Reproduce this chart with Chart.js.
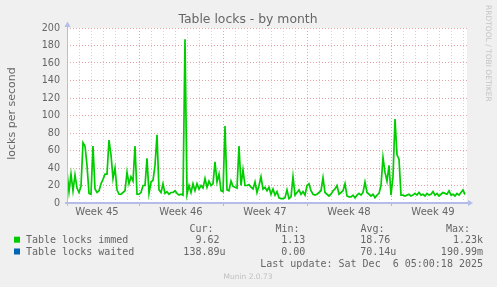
<!DOCTYPE html>
<html><head><meta charset="utf-8">
<script src="https://cdn.jsdelivr.net/npm/chart.js@4.4.1/dist/chart.umd.min.js"></script>
<style>html,body{margin:0;padding:0;background:#f0f0f0;overflow:hidden}</style>
</head><body><canvas id="c" width="497" height="287"></canvas>
<script>
const chartTitle = 'Table locks - by month';
const yTitle = 'locks per second';
const watermark = 'RRDTOOL / TOBI OETIKER';
const footer = 'Munin 2.0.73';
const weekLabels = ['Week 45', 'Week 46', 'Week 47', 'Week 48', 'Week 49'];
const weekCenters = [2.5, 9.5, 16.5, 23.5, 30.5];   // days from graph start
const weekStarts = [6, 13, 20, 27];                 // Monday 00:00, days from graph start
const spanDays = 33.3333;                           // time range shown
const sampleStep = 1 / 6;                           // days between samples (4 h)
const yTicks = [0, 20, 40, 60, 80, 100, 120, 140, 160, 180, 200];

const immed = [
  36,13,33,14,32,17,12,19,69,65,
  43,11,10,65,16,12,14,22,27,33,
  33,72,55,28,40,15,10,10,12,14,
  35,22,30,25,65,10,10,12,20,20,
  51,11,24,26,43,78,15,12,22,11,
  13,10,12,12,14,11,9,10,9,187,
  10,20,12,22,14,22,16,20,17,28,
  18,25,20,22,47,24,33,14,13,88,
  15,14,25,19,18,17,65,20,38,20,
  20,21,18,16,24,12,20,30,16,18,
  14,18,10,16,9,13,6,5,5,6,
  15,5,7,30,9,12,15,10,13,9,
  20,22,14,10,9,10,12,14,29,12,
  10,8,10,14,16,20,10,12,14,22,
  8,7,7,9,6,9,11,9,12,24,
  12,10,8,10,6,9,11,20,52,35,
  25,43,9,30,96,55,50,9,9,8,
  9,10,8,9,11,9,12,9,10,8,
  11,9,10,13,9,11,8,10,12,11,
  10,14,9,10,8,11,9,12,15,9.62
];
const waited = [
  0,0,0,0,0,0,0,0,0,0, 0,0,0,0,0,0,0,0,0,0,
  0,0,0,0,0,0,0,0,0,0, 0,0,0,0,0,0,0,0,0,0,
  0,0,0,0,0,0,0,0,0,0, 0,0,0,0,0,0,0,0,0,0.19,
  0,0,0,0,0,0,0,0,0,0, 0,0,0,0,0,0,0,0,0,0,
  0,0,0,0,0,0,0,0,0,0, 0,0,0,0,0,0,0,0,0,0,
  0,0,0,0,0,0,0,0,0,0, 0,0,0,0,0,0,0,0,0,0,
  0,0,0,0,0,0,0,0,0,0, 0,0,0,0,0,0,0,0,0,0,
  0,0,0,0,0,0,0,0,0,0, 0,0,0,0,0,0,0,0,0,0,
  0,0,0,0,0,0,0,0,0,0, 0,0,0,0,0,0,0,0,0,0,
  0,0,0,0,0,0,0,0,0,0, 0,0,0,0,0,0,0,0,0,0.000139
];
const seriesNames = ['Table locks immed', 'Table locks waited'];
const seriesColors = ['#00cc00', '#0066b3'];
const statHeaders = ['Cur:', 'Min:', 'Avg:', 'Max:'];
const immedStats = ['9.62 ', '1.13 ', '18.76 ', '1.23k'];
const waitedStats = ['138.89u', '0.00 ', '70.14u', '190.99m'];
const lastUpdate = 'Last update: Sat Dec  6 05:00:18 2025';

const FONT = '"DejaVu Sans", "Liberation Sans", sans-serif';
const MONO = '"DejaVu Sans Mono", "Liberation Mono", monospace';
const TEXT = '#666666';
const AXIS = '#b4bde8';
const MINOR = '#d2d2d2';
const MAJOR = '#e8a4a4';

const bgPlugin = {
  id: 'bg',
  beforeDraw(chart) {
    const {ctx, chartArea: a} = chart;
    ctx.save();
    ctx.fillStyle = '#f0f0f0';
    ctx.fillRect(0, 0, chart.width, chart.height);
    ctx.fillStyle = '#ffffff';
    ctx.fillRect(a.left, a.top, a.right - a.left, a.bottom - a.top);
    ctx.restore();
  }
};

const overlayPlugin = {
  id: 'overlay',
  afterDraw(chart) {
    const {ctx, chartArea: a, scales} = chart;
    ctx.save();
    // axes with arrows
    ctx.fillStyle = AXIS;
    ctx.fillRect(a.left - 2, a.bottom - 1, a.right - a.left + 4, 2);
    ctx.fillRect(a.left, a.top - 3, 1, a.bottom - a.top + 6);
    ctx.beginPath();
    ctx.moveTo(a.right + 1, a.bottom - 3); ctx.lineTo(a.right + 6, a.bottom); ctx.lineTo(a.right + 1, a.bottom + 3); ctx.closePath(); ctx.fill();
    ctx.beginPath();
    ctx.moveTo(a.left - 2.5, a.top - 1); ctx.lineTo(a.left + 0.5, a.top - 6.5); ctx.lineTo(a.left + 3.5, a.top - 1); ctx.closePath(); ctx.fill();
    // major tick marks below x axis
    ctx.strokeStyle = MAJOR; ctx.lineWidth = 1;
    ctx.beginPath();
    weekStarts.forEach(d => {
      const x = Math.round(scales.x.getPixelForValue(d)) + 0.5;
      ctx.moveTo(x, a.bottom + 1); ctx.lineTo(x, a.bottom + 3);
    });
    ctx.stroke();

    // title
    ctx.fillStyle = TEXT;
    ctx.font = '12.4px ' + FONT;
    ctx.textAlign = 'center'; ctx.textBaseline = 'alphabetic';
    ctx.fillText(chartTitle, 248, 23);
    // y title
    ctx.save();
    ctx.translate(15, 113.5); ctx.rotate(-Math.PI / 2);
    ctx.font = '11px ' + FONT;
    ctx.fillText(yTitle, 0, 0);
    ctx.restore();
    // watermark
    ctx.save();
    ctx.fillStyle = '#c4c4c4';
    ctx.translate(485.5, 5); ctx.rotate(Math.PI / 2);
    ctx.font = '7.5px ' + FONT; ctx.textAlign = 'left';
    ctx.fillText(watermark, 0, 0);
    ctx.restore();

    // legend
    ctx.font = '10px ' + MONO;
    ctx.fillStyle = TEXT;
    const headerRight = [213.5, 299.5, 384.5, 470];
    const valueRight = [225.5, 311.3, 396.3, 483];
    ctx.textAlign = 'right';
    statHeaders.forEach((h, i) => ctx.fillText(h, headerRight[i], 231.6));
    [immedStats, waitedStats].forEach((row, r) => {
      const y = 243.2 + r * 11.8;
      ctx.fillStyle = seriesColors[r];
      ctx.fillRect(14, y - 6.5, 6, 6);
      ctx.fillStyle = TEXT;
      ctx.textAlign = 'left';
      ctx.fillText(seriesNames[r], 26, y);
      ctx.textAlign = 'right';
      row.forEach((v, i) => ctx.fillText(v, valueRight[i], y));
    });
    ctx.fillText(lastUpdate, 483, 266.6);
    // footer
    ctx.fillStyle = '#c0c0c0';
    ctx.font = '7.5px ' + FONT;
    ctx.textAlign = 'center';
    ctx.fillText(footer, 248, 279);
    ctx.restore();
  }
};

new Chart(document.getElementById('c').getContext('2d'), {
  type: 'line',
  data: {
    datasets: [
      { label: seriesNames[1], data: waited.map((v, i) => ({x: i * sampleStep, y: v})),
        borderColor: seriesColors[1], borderWidth: 1, pointRadius: 0, tension: 0, fill: false },
      { label: seriesNames[0], data: immed.map((v, i) => ({x: i * sampleStep, y: v})),
        borderColor: seriesColors[0], borderWidth: 1.7, pointRadius: 0, tension: 0, fill: false }
    ]
  },
  options: {
    responsive: false, animation: false, devicePixelRatio: 1,
    layout: { padding: { left: 0, top: 28, right: 30, bottom: 64 } },
    plugins: { legend: { display: false }, tooltip: { enabled: false }, title: { display: false } },
    scales: {
      x: {
        type: 'linear', min: 0, max: spanDays,
        afterBuildTicks(s) {
          const t = [];
          for (let d = 0; d <= Math.floor(spanDays); d++) t.push({value: d});
          weekCenters.forEach(v => t.push({value: v}));
          t.sort((p, q) => p.value - q.value);
          s.ticks = t;
        },
        afterFit(s) { s.height = 20; },
        ticks: {
          autoSkip: false, maxRotation: 0, minRotation: 0, padding: 3, color: TEXT,
          font: { family: FONT, size: 10 },
          callback(v) { const k = weekCenters.indexOf(v); return k >= 0 ? weekLabels[k] : ''; }
        },
        grid: {
          drawTicks: false,
          color(c) {
            const v = c.tick ? c.tick.value : 0;
            if (v === 0 || v % 1 !== 0) return 'rgba(0,0,0,0)';
            return weekStarts.includes(v) ? MAJOR : MINOR;
          }
        },
        border: { display: false, dash: [1, 2] }
      },
      y: {
        min: 0, max: 200,
        afterFit(s) { s.width = 67; },
        ticks: {
          stepSize: 10, padding: 7, color: TEXT, font: { family: FONT, size: 9.6 },
          callback(v) { return yTicks.includes(v) ? String(v) : ''; }
        },
        grid: {
          drawTicks: false,
          color(c) {
            const v = c.tick ? c.tick.value : 0;
            if (v === 0) return 'rgba(0,0,0,0)';
            return yTicks.includes(v) ? MAJOR : MINOR;
          }
        },
        border: { display: false, dash: [1, 2] }
      }
    }
  },
  plugins: [bgPlugin, overlayPlugin]
});
</script>
</body></html>
